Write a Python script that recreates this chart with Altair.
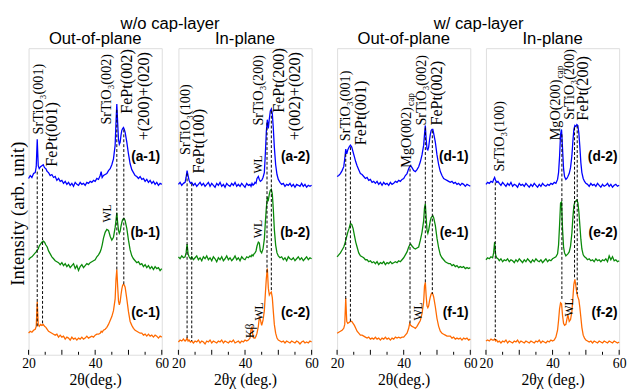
import altair as alt
import pandas as pd

# ---------------- data ----------------
GRID_OOP = [20, 20.5, 21, 21.5, 22, 22.3, 22.6, 22.9, 23.2, 23.6, 24, 24.4, 24.8, 25.2, 25.6,
            26, 26.5, 27, 27.5, 28, 28.5, 29, 29.5, 30, 30.5, 31, 31.5, 32, 32.5, 33, 33.5,
            34, 34.5, 35, 35.5, 36, 36.5, 37, 37.5, 38, 38.5, 39, 39.5, 40, 40.5, 41, 41.5,
            41.8, 42.1, 42.5, 43, 43.5, 44, 44.5, 45, 45.5, 46, 46.25, 46.5, 46.75, 47,
            47.25, 47.5, 47.75, 48, 48.25, 48.5, 48.75, 49, 49.5, 50, 50.5, 51, 51.5, 52,
            52.5, 53, 53.5, 54, 54.5, 55, 55.5, 56, 56.5, 57, 57.5, 58, 58.5, 59, 59.5, 60]

GRID_IP = [20, 20.5, 21, 21.5, 22, 22.3, 22.6, 22.9, 23.2, 23.6,
           24, 24.5, 25, 25.5, 26, 26.5, 27, 27.5, 28, 28.5, 29, 29.5, 30, 30.5, 31, 31.5, 32, 32.5,
           33, 33.5, 34, 34.5, 35, 35.5, 36, 36.5, 37, 37.5, 38, 38.5, 39, 39.5, 40, 40.5, 41, 41.5,
           41.8, 42.1, 42.4, 42.7, 43.0, 43.3, 43.6, 44, 44.3, 44.6, 45, 45.4, 45.8,
           46.1, 46.4, 46.7, 47.0, 47.3, 47.6, 47.9, 48.2, 48.5, 48.8, 49.2, 49.6,
           50, 50.5, 51, 51.5, 52, 52.5, 53, 53.5, 54, 54.5, 55, 55.5, 56, 56.5, 57, 57.5, 58, 58.5, 59, 59.5, 60]

# w/o cap-layer, out-of-plane
A1 = [180, 183, 181, 185, 186, 192, 220, 193, 190, 192, 193, 194, 191, 190, 187,
      186, 183, 184, 181, 182, 178, 180, 177, 178, 175, 177, 174, 176, 173, 175, 172,
      176, 174, 173, 176, 174, 175, 173, 176, 175, 177, 176, 178, 177, 180, 179, 183,
      187, 181, 183, 184, 185, 188, 190, 194, 200, 214, 237, 256, 237, 220,
      215, 217, 224, 229, 231, 232, 230, 227, 217, 205, 195, 189, 186, 183,
      182, 180, 182, 179, 180, 177, 179, 176, 178, 175, 177, 174, 176, 173, 175, 174]
B1 = [97, 99, 100, 102, 104, 105, 107, 108, 111, 113, 115, 116, 115, 112, 110,
      106, 103, 100, 98, 96, 95, 94, 92, 94, 91, 93, 90, 92, 89, 91, 93,
      88, 91, 86, 90, 92, 89, 91, 93, 92, 94, 95, 96, 97, 100, 102, 105,
      108, 112, 119, 125, 128, 127, 121, 117, 120, 130, 137, 145, 135, 127,
      124, 126, 131, 135, 138, 139, 139, 137, 129, 117, 107, 101, 98, 96,
      94, 95, 92, 93, 90, 92, 89, 91, 88, 90, 87, 90, 88, 89, 86, 88]
C1 = [22, 24, 23, 25, 26, 29, 54, 31, 29, 31, 30, 31, 29, 28, 26,
      24, 23, 22, 21, 20, 21, 18, 20, 18, 19, 16, 18, 17, 15, 18, 16,
      17, 15, 17, 16, 18, 16, 17, 19, 17, 18, 19, 18, 20, 21, 21, 22,
      24, 23, 25, 26, 28, 31, 35, 39, 45, 57, 77, 87, 70, 55,
      51, 54, 61, 67, 71, 72, 71, 69, 57, 44, 34, 30, 27, 25,
      24, 23, 22, 22, 20, 21, 19, 21, 19, 20, 18, 20, 19, 17, 19, 18]

# w/o cap-layer, in-plane
A2 = [174, 176, 173, 175, 176, 181, 188, 183, 178, 175,
      176, 173, 175, 172, 174, 176, 173, 175, 172, 174, 176, 172, 175, 173, 171, 175, 173, 176,
      172, 174, 171, 175, 173, 172, 175, 173, 176, 172, 174, 172, 175, 173, 171, 175, 173, 174,
      172, 175, 173, 174, 176, 175, 180, 182, 179, 177, 178, 181, 186,
      205, 228, 240, 231, 241, 249, 251, 246, 231, 212, 194, 184,
      179, 176, 174, 175, 172, 174, 173, 175, 172, 174, 171, 174, 173, 172, 175, 172, 174, 171, 173, 172, 173]
B2 = [100, 98, 101, 99, 100, 104, 113, 103, 100, 98,
      100, 97, 99, 101, 97, 99, 96, 100, 98, 101, 97, 99, 96, 100, 98, 95, 99, 97,
      100, 96, 98, 101, 97, 99, 96, 98, 101, 97, 99, 96, 100, 98, 97, 100, 99, 101,
      100, 102, 101, 103, 104, 106, 111, 115, 114, 106, 104, 108, 118,
      135, 150, 160, 158, 164, 168, 169, 164, 148, 128, 112, 104,
      101, 99, 100, 97, 99, 96, 100, 98, 97, 99, 96, 98, 100, 97, 99, 96, 98, 100, 97, 99, 98]
C2 = [13, 15, 14, 16, 14, 15, 17, 14, 15, 13,
      14, 12, 14, 13, 15, 12, 14, 13, 11, 14, 13, 15, 12, 14, 13, 12, 14, 13,
      15, 12, 14, 13, 12, 14, 13, 15, 12, 13, 14, 12, 14, 13, 15, 14, 15, 17,
      26, 28, 18, 17, 17, 19, 22, 29, 38, 36, 30, 35, 45,
      62, 78, 88, 68, 61, 63, 64, 58, 44, 31, 22, 17,
      15, 14, 13, 14, 12, 14, 13, 12, 14, 13, 12, 14, 13, 11, 13, 14, 12, 13, 12, 14, 13]

# w/ cap-layer, out-of-plane
D1 = [182, 183, 185, 188, 192, 200, 210, 205, 209, 212, 214, 212, 207, 202, 197,
      193, 189, 185, 184, 182, 180, 181, 178, 179, 176, 177, 175, 177, 174, 176, 173,
      176, 174, 175, 173, 176, 174, 175, 177, 176, 178, 177, 179, 180, 183, 185, 190,
      192, 193, 191, 188, 187, 189, 192, 197, 204, 214, 225, 234, 220, 210,
      209, 212, 219, 225, 229, 230, 230, 226, 217, 204, 194, 187, 183, 180,
      179, 178, 177, 176, 177, 175, 176, 174, 175, 173, 175, 174, 172, 174, 173, 172]
E1 = [100, 102, 104, 107, 110, 113, 117, 121, 125, 129, 134, 133, 129, 122, 115,
      110, 104, 101, 100, 99, 97, 97, 95, 96, 94, 95, 93, 95, 92, 94, 93,
      95, 92, 94, 93, 95, 93, 94, 95, 94, 96, 95, 97, 99, 102, 105, 110,
      112, 113, 111, 109, 108, 109, 110, 117, 125, 137, 150, 154, 140, 127,
      124, 127, 132, 137, 140, 141, 142, 140, 132, 119, 109, 102, 99, 97,
      95, 94, 93, 93, 91, 92, 90, 91, 89, 90, 89, 90, 88, 89, 88, 89]
F1 = [22, 23, 24, 25, 27, 31, 58, 34, 32, 33, 34, 34, 32, 30, 27,
      24, 22, 20, 20, 19, 18, 17, 18, 16, 17, 16, 18, 16, 17, 15, 17,
      16, 18, 16, 17, 15, 17, 16, 18, 17, 18, 17, 18, 18, 20, 22, 27,
      32, 30, 29, 28, 27, 29, 32, 35, 42, 54, 70, 74, 60, 50,
      48, 50, 55, 59, 62, 63, 62, 59, 49, 37, 29, 24, 22, 21,
      20, 19, 19, 19, 17, 18, 16, 17, 16, 17, 15, 17, 16, 17, 15, 16]

# w/ cap-layer, in-plane
D2 = [174, 176, 175, 177, 176, 179, 181, 178, 176, 177,
      175, 173, 176, 174, 172, 175, 173, 176, 172, 174, 173, 171, 175, 173, 174, 172, 175, 173,
      171, 174, 172, 175, 173, 171, 174, 172, 175, 173, 172, 174, 173, 175, 174, 176, 175, 179,
      186, 202, 225, 230, 210, 190, 182, 179, 180, 182, 185, 191, 203,
      218, 230, 234, 233, 235, 234, 226, 212, 196, 186, 180, 177,
      175, 174, 172, 175, 173, 174, 172, 175, 173, 171, 174, 172, 173, 175, 172, 174, 171, 173, 174, 172, 173]
E2 = [97, 99, 98, 100, 99, 104, 115, 102, 99, 98,
      96, 98, 95, 97, 96, 98, 95, 97, 96, 94, 97, 95, 98, 96, 94, 97, 95, 98,
      96, 94, 97, 95, 98, 96, 95, 97, 94, 96, 98, 95, 97, 96, 98, 99, 100, 103,
      112, 132, 155, 156, 128, 110, 104, 101, 102, 103, 105, 111, 124,
      140, 152, 156, 157, 158, 155, 146, 132, 118, 108, 102, 100,
      99, 97, 98, 96, 97, 95, 98, 96, 97, 95, 97, 96, 98, 95, 101, 97, 100, 96, 97, 95, 96]
F2 = [14, 15, 14, 16, 15, 15, 16, 14, 15, 13,
      14, 12, 14, 13, 15, 12, 14, 13, 12, 14, 13, 15, 12, 14, 13, 12, 14, 13,
      12, 14, 13, 12, 14, 13, 15, 12, 14, 13, 12, 14, 13, 15, 14, 15, 18, 25,
      35, 47, 53, 52, 40, 32, 30, 31, 36, 41, 34, 36, 44,
      58, 72, 77, 70, 63, 59, 56, 48, 38, 28, 20, 17,
      15, 14, 13, 14, 12, 14, 13, 12, 14, 13, 12, 14, 13, 12, 14, 13, 12, 14, 13, 12, 13]

# dashed guide lines: (x, from, to)
RULES_1 = [(22.6, 187, 28), (24.2, 190, 30), (46.5, 250, 87), (48.6, 230, 72)]
RULES_2 = [(22.6, 185, 15), (24.0, 175, 14), (46.6, 237, 84), (47.9, 249, 64)]
RULES_3 = [(22.6, 205, 57), (24.0, 212, 34), (41.9, 190, 30), (46.5, 232, 72), (48.6, 229, 62)]
RULES_4 = [(22.8, 176, 15), (42.8, 225, 55), (46.6, 232, 77), (47.4, 234, 62)]

# annotations: (text, x, y)
MID_1 = [("SrTiO₃(001)", 23.1, 225), ("SrTiO₃(002)", 43.7, 235)]
BIG_1 = [("FePt(001)", 27.0, 192), ("FePt(002)", 49.6, 246), ("+(200)+(020)", 54.7, 219)]
SMALL_1 = [("WL", 43.5, 135)]
MID_2 = [("SrTiO₃(100)", 22.4, 204), ("SrTiO₃(200)", 44.1, 234)]
BIG_2 = [("FePt(100)", 26.3, 185), ("FePt(200)", 50.3, 247), ("+(002)+(020)", 55.0, 219)]
SMALL_2 = [("WL", 43.8, 185), ("WL", 43.8, 119), ("Kβ", 41.6, 17), ("WL", 44.1, 35)]
MID_3 = [("SrTiO₃(001)", 22.8, 218), ("MgO(002)", 41.0, 191), ("SrTiO₃(002)", 45.5, 234)]
BIG_3 = [("FePt(001)", 27.2, 214), ("FePt(002)", 50.1, 234)]
SMALL_3 = [("WL", 44.3, 35)]
CAP_3 = [("cap", 41.0, 191)]
MID_4 = [("SrTiO₃(100)", 24.3, 187), ("MgO(200)", 41.0, 219), ("SrTiO₃(200)", 45.3, 240)]
BIG_4 = [("FePt(200)", 49.3, 239)]
SMALL_4 = [("WL", 44.9, 39)]
CAP_4 = [("cap", 41.0, 219)]

LABEL_X = 59.5
LABEL_Y = [202, 124, 43]
LABELS = [["(a-1)", "(b-1)", "(c-1)"], ["(a-2)", "(b-2)", "(c-2)"],
          ["(d-1)", "(e-1)", "(f-1)"], ["(d-2)", "(e-2)", "(f-2)"]]

GROUP_TITLES = ["w/o cap-layer", "w/ cap-layer"]
PANEL_TITLES = ["Out-of-plane", "In-plane", "Out-of-plane", "In-plane"]
X_TITLES = ["2θ(deg.)", "2θχ (deg.)", "2θ(deg.)", "2θχ (deg.)"]
MAJOR_TICKS = [20, 30, 40, 50, 60]
MINOR_TICKS = [25, 35, 45, 55]

SERIES = ["upper", "middle", "lower"]
COLORS = ["#0000ff", "#0a8a0a", "#ff6a00"]

# ---------------- chart ----------------
W, H = 136, 313
SERIF = "Liberation Serif, DejaVu Serif"
SANS = "Liberation Sans, Arial, sans-serif"
XS = alt.Scale(domain=[20, 60], nice=False)
YS = alt.Scale(domain=[0, 313], nice=False, zero=False)


def curves_df(grid, curves):
    rows = []
    for name, vals in zip(SERIES, curves):
        for x, y in zip(grid, vals):
            rows.append({"x": x, "y": y, "s": name})
    return pd.DataFrame(rows)


def text_df(items):
    return pd.DataFrame(items, columns=["t", "x", "y"])


def rot_text(items, size, **kw):
    return alt.Chart(text_df(items)).mark_text(
        angle=270, align="left", baseline="middle", font=SERIF, fontSize=size,
        color="black", **kw
    ).encode(x=alt.X("x:Q", scale=XS), y=alt.Y("y:Q", scale=YS), text="t:N")


def panel(i, grid, curves, rules, mid, big, small, cap=None, group_title=None):
    xaxis = alt.Axis(values=MAJOR_TICKS, format="d", labelFlush=False, ticks=False, domain=False,
                     grid=False, labelFont=SERIF, labelFontSize=14, labelColor="black",
                     labelPadding=2, title=X_TITLES[i], titleFont=SERIF, titleFontSize=16,
                     titleFontWeight="normal", titleColor="black", titlePadding=1)
    if i == 0:
        yaxis = alt.Axis(title="Intensity (arb. unit)", labels=False, ticks=False, domain=False,
                         grid=False, titleFont=SERIF, titleFontSize=19, titleFontWeight="normal",
                         titleColor="black", titlePadding=1, titleY=H / 2 + 12)
    else:
        yaxis = None

    lines = alt.Chart(curves_df(grid, curves)).mark_line(strokeWidth=1.3).encode(
        x=alt.X("x:Q", scale=XS, axis=xaxis),
        y=alt.Y("y:Q", scale=YS, axis=yaxis),
        color=alt.Color("s:N", scale=alt.Scale(domain=SERIES, range=COLORS), legend=None),
        detail="s:N",
    )
    rdf = pd.DataFrame(rules, columns=["x", "y", "y2"])
    dashes = alt.Chart(rdf).mark_rule(color="black", strokeWidth=1, strokeDash=[3, 2]).encode(
        x=alt.X("x:Q", scale=XS), y=alt.Y("y:Q", scale=YS), y2="y2:Q")
    major = alt.Chart(pd.DataFrame({"x": MAJOR_TICKS})).mark_rule(color="black").encode(
        x=alt.X("x:Q", scale=XS), y=alt.value(H), y2=alt.value(H - 5))
    minor = alt.Chart(pd.DataFrame({"x": MINOR_TICKS})).mark_rule(color="black").encode(
        x=alt.X("x:Q", scale=XS), y=alt.value(H), y2=alt.value(H - 3))
    layers = [lines, dashes, major, minor,
              rot_text(mid, 14.5), rot_text(big, 16.5), rot_text(small, 12)]
    if cap:
        layers.append(rot_text(cap, 9.5, dx=63, dy=4))
    ldf = pd.DataFrame({"t": LABELS[i], "x": [LABEL_X] * 3, "y": LABEL_Y})
    layers.append(alt.Chart(ldf).mark_text(
        align="right", baseline="middle", font=SANS, fontWeight="bold", fontSize=14, color="black"
    ).encode(x=alt.X("x:Q", scale=XS), y=alt.Y("y:Q", scale=YS), text="t:N"))
    layers.append(alt.Chart(pd.DataFrame({"t": [PANEL_TITLES[i]]})).mark_text(
        align="center", baseline="middle", font=SANS, fontSize=17, color="black"
    ).encode(x=alt.value(W / 2), y=alt.value(-9), text="t:N"))
    if group_title:
        layers.append(alt.Chart(pd.DataFrame({"t": [group_title]})).mark_text(
            align="center", baseline="middle", font=SANS, fontSize=17, color="black"
        ).encode(x=alt.value(144.5), y=alt.value(-25), text="t:N"))
    return alt.layer(*layers).properties(width=W, height=H)


p1 = panel(0, GRID_OOP, [A1, B1, C1], RULES_1, MID_1, BIG_1, SMALL_1, group_title=GROUP_TITLES[0])
p2 = panel(1, GRID_IP, [A2, B2, C2], RULES_2, MID_2, BIG_2, SMALL_2)
p3 = panel(2, GRID_OOP, [D1, E1, F1], RULES_3, MID_3, BIG_3, SMALL_3, cap=CAP_3,
           group_title=GROUP_TITLES[1])
p4 = panel(3, GRID_IP, [D2, E2, F2], RULES_4, MID_4, BIG_4, SMALL_4, cap=CAP_4)

left = alt.hconcat(p1, p2, spacing=17, bounds="flush")
right = alt.hconcat(p3, p4, spacing=16, bounds="flush")
chart = alt.hconcat(left, right, spacing=10).properties(
    padding={"left": 0, "top": 2, "right": 0, "bottom": 0}
).configure_view(stroke="black", strokeWidth=1).configure(background="white")

chart.save("out.html", embed_options={"renderer": "svg", "actions": False})
